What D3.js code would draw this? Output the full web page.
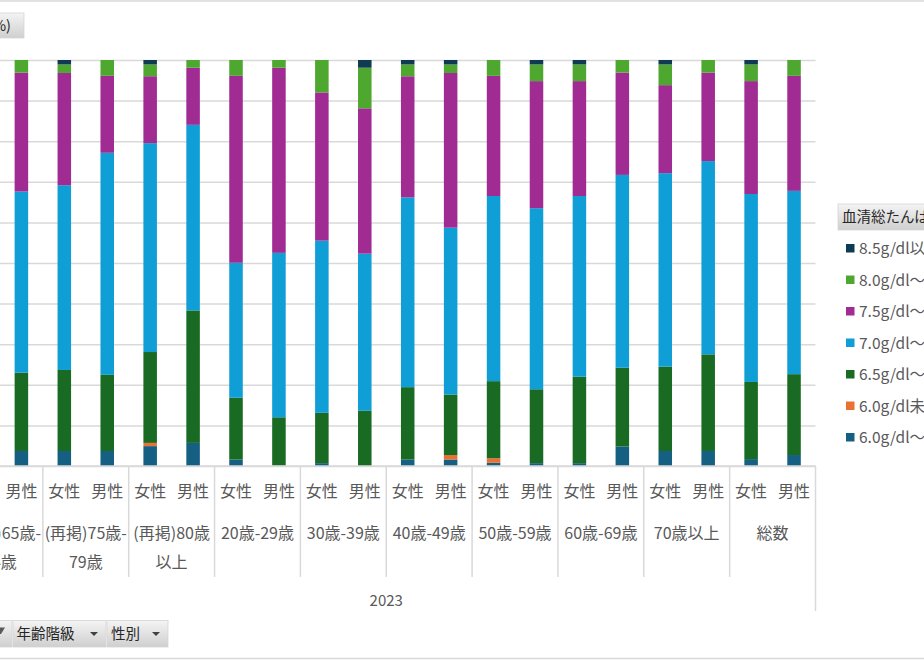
<!DOCTYPE html>
<html>
<head>
<meta charset="utf-8">
<script src="https://cdn.jsdelivr.net/npm/d3@7"></script>
<style>
  body { margin: 0; background: #fff; }
  svg { display: block; font-family: "Noto Sans CJK JP", "Noto Sans", sans-serif; }
</style>
</head>
<body>
<svg width="924" height="660"></svg>
<script>
// categories
const groups = ["(再掲)65歳-74歳", "(再掲)75歳-79歳", "(再掲)80歳以上", "20歳-29歳", "30歳-39歳",
  "40歳-49歳", "50歳-59歳", "60歳-69歳", "70歳以上", "総数"];
const genders = ["女性", "男性"];
const year = "2023";

// series, bottom of the stack first (% per bar, group x gender order; first bar lies outside the picture)
const s60_64 = [null, 3.7, 3.7, 3.7, 4.9, 5.7, 1.6, 0.1, 0.7, 0, 1.6, 1.6, 0.8, 0.7, 0.7, 4.8, 3.7, 3.7, 1.7, 2.7];
const s60un  = [null, 0, 0, 0, 0.8, 0, 0, 0, 0, 0, 0, 1.1, 1.1, 0, 0, 0, 0, 0, 0, 0];
const s65_69 = [null, 19.3, 20.0, 18.8, 22.4, 32.7, 15.2, 11.9, 12.4, 13.6, 17.8, 14.9, 19.0, 18.2, 21.3, 19.4, 20.8, 23.8, 19.0, 19.9];
const s70_74 = [null, 44.6, 45.6, 54.8, 51.5, 45.8, 33.2, 40.5, 42.4, 38.7, 46.7, 41.1, 45.6, 44.6, 44.5, 47.5, 47.7, 47.6, 46.3, 45.1];
const s75_79 = [null, 29.3, 27.7, 19.0, 16.5, 14.1, 46.0, 45.6, 36.5, 35.8, 29.8, 38.1, 29.6, 31.3, 28.3, 25.2, 21.7, 21.8, 27.8, 28.3];
const s80_84 = [null, 3.1, 2.1, 3.9, 2.9, 1.9, 3.9, 1.9, 8.0, 10.0, 2.9, 2.1, 3.9, 4.1, 4.1, 3.1, 5.1, 3.1, 4.1, 3.9];
const s85up  = [null, 0, 1.1, 0, 1.1, 0, 0, 0, 0, 1.9, 1.1, 1.1, 0, 1.1, 1.1, 0, 1.1, 0, 1.1, 0];

const seriesNames = ["6.0g/dl～6.4g/dl", "6.0g/dl未満", "6.5g/dl～6.9g/dl", "7.0g/dl～7.4g/dl",
  "7.5g/dl～7.9g/dl", "8.0g/dl～8.4g/dl", "8.5g/dl以上"];
const seriesValues = [s60_64, s60un, s65_69, s70_74, s75_79, s80_84, s85up];
const colors = ["#156082", "#e97132", "#196b24", "#0f9ed5", "#a02b93", "#4ea72e", "#0e3a53"];

const svg = d3.select("svg");

// chart border (top / bottom edges visible)
svg.append("line").attr("x1", 0).attr("x2", 924).attr("y1", 1).attr("y2", 1)
  .attr("stroke", "#d9d9d9").attr("stroke-width", 1.5);
svg.append("line").attr("x1", 0).attr("x2", 924).attr("y1", 658.5).attr("y2", 658.5)
  .attr("stroke", "#d9d9d9").attr("stroke-width", 1.5);

// plot area: left part sits outside the picture
const plot = { left: -43, right: 815.5, top: 60, bottom: 466 };

const keys = [];
groups.forEach(g => genders.forEach(s => keys.push(g + "|" + s)));

const rows = keys.map((k, i) => {
  const r = { key: k, group: k.split("|")[0], gender: k.split("|")[1] };
  seriesNames.forEach((n, j) => r[n] = seriesValues[j][i]);
  return r;
}).filter(r => r[seriesNames[0]] !== null);

const x = d3.scaleBand().domain(keys)
  .range([plot.left, plot.right])
  .paddingInner(0.685).paddingOuter(0.3425);
const xGroup = d3.scaleBand().domain(groups).range([plot.left, plot.right]);
const y = d3.scaleLinear().domain([0, 1]).range([plot.bottom, plot.top]);

// gridlines (value labels are off the picture, so none drawn)
const grid = svg.append("g")
  .attr("transform", `translate(${plot.left},0)`)
  .call(d3.axisLeft(y).ticks(10).tickSize(-(plot.right - plot.left)).tickFormat(""));
grid.select(".domain").remove();
grid.selectAll(".tick line").attr("stroke", "#d9d9d9").attr("stroke-width", 1.5);

// stacked bars
const stack = d3.stack().keys(seriesNames).offset(d3.stackOffsetExpand);
const layers = stack(rows);

svg.append("g").selectAll("g")
  .data(layers)
  .join("g")
  .attr("fill", (d, i) => colors[i])
  .selectAll("rect")
  .data(d => d)
  .join("rect")
  .attr("x", d => x(d.data.key))
  .attr("width", x.bandwidth())
  .attr("y", d => y(d[1]))
  .attr("height", d => y(d[0]) - y(d[1]));

// category axis line
svg.append("line").attr("x1", plot.left).attr("x2", plot.right)
  .attr("y1", plot.bottom).attr("y2", plot.bottom)
  .attr("stroke", "#d9d9d9").attr("stroke-width", 1.5);

const axisG = svg.append("g").attr("fill", "#595959");

// gender labels
axisG.selectAll("text.gender")
  .data(keys)
  .join("text")
  .attr("class", "gender")
  .attr("x", d => x(d) + x.bandwidth() / 2)
  .attr("y", 497)
  .attr("text-anchor", "middle")
  .attr("font-size", 16)
  .text(d => d.split("|")[1]);

// group separators
axisG.selectAll("line.sep")
  .data(groups.slice(1))
  .join("line")
  .attr("class", "sep")
  .attr("x1", d => xGroup(d)).attr("x2", d => xGroup(d))
  .attr("y1", plot.bottom).attr("y2", 577)
  .attr("stroke", "#d9d9d9").attr("stroke-width", 1.5);
svg.append("line").attr("x1", plot.right).attr("x2", plot.right)
  .attr("y1", plot.bottom).attr("y2", 611)
  .attr("stroke", "#d9d9d9").attr("stroke-width", 1.5);

// group labels, wrapped like Excel
const measure = axisG.append("text").attr("font-size", 16).attr("visibility", "hidden");
function wrap(label, maxW) {
  const tokens = label.match(/[0-9]+|./g);
  const lines = [];
  let cur = "";
  tokens.forEach(t => {
    measure.text(cur + t);
    if (cur && measure.node().getComputedTextLength() > maxW) {
      lines.push(cur);
      cur = t;
    } else {
      cur += t;
    }
  });
  lines.push(cur);
  return lines;
}

groups.forEach(g => {
  const lines = wrap(g, xGroup.bandwidth() - 2);
  const t = axisG.append("text")
    .attr("x", xGroup(g) + xGroup.bandwidth() / 2)
    .attr("y", 539)
    .attr("text-anchor", "middle")
    .attr("font-size", 16);
  lines.forEach((ln, i) => {
    t.append("tspan")
      .attr("x", xGroup(g) + xGroup.bandwidth() / 2)
      .attr("dy", i === 0 ? 0 : 28.5)
      .text(ln);
  });
});
measure.remove();

// year label
axisG.append("text")
  .attr("x", (plot.left + plot.right) / 2)
  .attr("y", 605.5)
  .attr("text-anchor", "middle")
  .attr("font-size", 15)
  .text(year);

// field buttons
const defs = svg.append("defs");
const grad = defs.append("linearGradient").attr("id", "btn").attr("x1", 0).attr("x2", 0).attr("y1", 0).attr("y2", 1);
grad.append("stop").attr("offset", "0%").attr("stop-color", "#f4f4f4");
grad.append("stop").attr("offset", "100%").attr("stop-color", "#cfcfcf");

function button(x0, y0, w, h, label, tx, anchor) {
  const b = svg.append("g");
  b.append("rect").attr("x", x0).attr("y", y0).attr("width", w).attr("height", h)
    .attr("fill", "url(#btn)").attr("stroke", "#d4d4d4").attr("stroke-width", 0.8);
  if (label) {
    b.append("text").attr("x", tx).attr("y", y0 + h / 2 + 5.2)
      .attr("text-anchor", anchor || "start")
      .attr("font-size", 14.5).attr("fill", "#262626").text(label);
  }
  return b;
}
function dropArrow(cx, cy) {
  svg.append("path")
    .attr("d", `M${cx - 4},${cy - 2} L${cx + 4},${cy - 2} L${cx},${cy + 2} Z`)
    .attr("fill", "#404040");
}

button(-100, 13, 124, 25, "合計 / 割合(%)", 11, "end");

button(-100, 620.5, 112, 26.5, null);
svg.append("path").attr("d", "M-6,627.5 L5,627.5 L1,634 L-2,634 Z").attr("fill", "#595959");
button(13, 620.5, 93, 26.5, "年齢階級", 16.5);
dropArrow(94, 634);
button(107, 620.5, 61, 26.5, "性別", 111);
dropArrow(156, 634);

// legend
button(838, 204, 120, 26, "血清総たんぱく(g/dl)", 842);

const legend = svg.append("g");
const legendItems = seriesNames.map((n, i) => ({ name: n, color: colors[i] })).reverse();
const ly = d3.scalePoint().domain(legendItems.map(d => d.name)).range([248.5, 437.5]);
const li = legend.selectAll("g")
  .data(legendItems)
  .join("g")
  .attr("transform", d => `translate(846,${ly(d.name)})`);
li.append("rect").attr("x", 0).attr("y", -4.5).attr("width", 8.5).attr("height", 8.5)
  .attr("fill", d => d.color);
li.append("text").attr("x", 13).attr("y", 5.5)
  .attr("font-size", 15.5).attr("fill", "#595959")
  .text(d => d.name);
</script>
</body>
</html>
